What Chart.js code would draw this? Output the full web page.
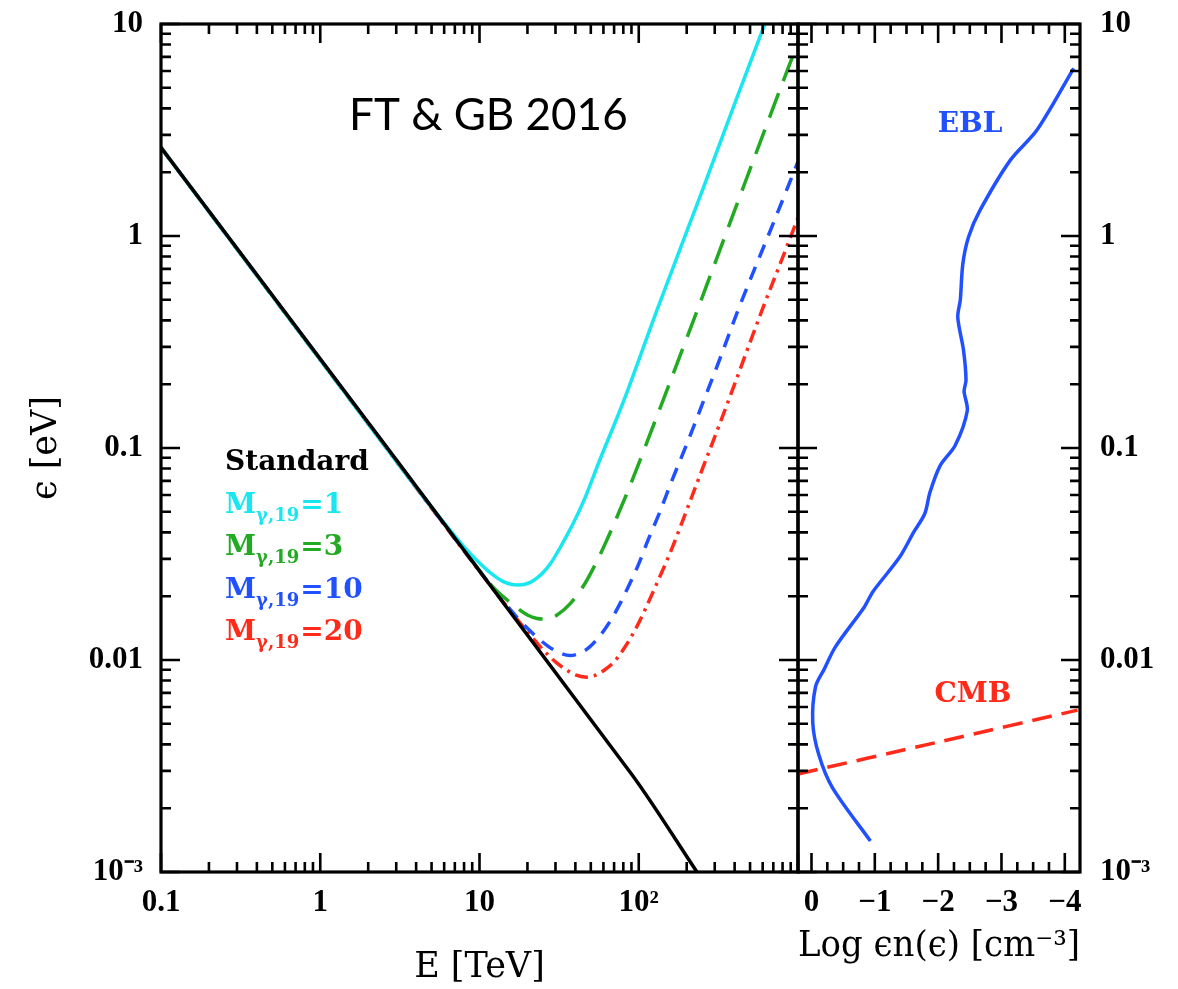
<!DOCTYPE html>
<html>
<head>
<meta charset="utf-8">
<script src="https://cdn.jsdelivr.net/npm/chart.js@4.4.1/dist/chart.umd.min.js"></script>
<style>
  html, body { margin: 0; padding: 0; background: #fff; }
  #wrap { position: relative; width: 1178px; height: 989px; }
  canvas { position: absolute; top: 0; }
  #left { left: 0; }
  #right { left: 786px; }
</style>
</head>
<body>
<div id="wrap">
  <canvas id="left" width="810" height="989"></canvas>
  <canvas id="right" width="392" height="989"></canvas>
</div>
<script>
// left panel: threshold energy eps [eV] vs gamma energy E [TeV]
const stdE = [0.1, 90, 232];
const stdEps = [2.61, 0.0029, 0.001];

const m1E = [0.1, 1, 5, 8, 10, 12, 14, 16, 17.5, 19, 21, 23, 25, 28, 33, 39, 45, 57, 80, 130, 250, 400, 650];
const m1Eps = [2.61, 0.261, 0.0526, 0.0342, 0.0287, 0.0254, 0.0235, 0.0227, 0.0226, 0.0227, 0.0233, 0.0244, 0.0258, 0.0286, 0.0352, 0.0445, 0.056, 0.088, 0.165, 0.446, 1.63, 4.2, 11];

const m3E = [0.1, 1, 8, 12, 16, 20, 23, 25.8, 28, 30.7, 37, 44.7, 52, 61.4, 75, 90, 115, 140, 232, 400, 700, 1000];
const m3Eps = [2.61, 0.261, 0.0331, 0.0223, 0.0184, 0.0163, 0.0157, 0.0156, 0.0158, 0.0163, 0.0184, 0.0222, 0.0272, 0.0352, 0.0496, 0.069, 0.111, 0.163, 0.442, 1.32, 4.05, 8.2];

const m10E = [0.1, 1, 10, 15, 20, 27, 32, 37, 43, 49, 57, 66, 77, 88, 100, 114, 135, 160, 200, 250, 320, 420, 700, 1000];
const m10Eps = [2.61, 0.261, 0.0264, 0.0179, 0.0141, 0.0116, 0.0108, 0.0105, 0.0108, 0.0115, 0.013, 0.0152, 0.0187, 0.023, 0.0284, 0.0366, 0.0495, 0.069, 0.104, 0.16, 0.258, 0.446, 1.15, 2.24];

const m20E = [0.1, 1, 10, 15, 20, 25, 30, 35, 40, 47, 54, 60, 70, 80, 95, 110, 130, 160, 200, 250, 320, 400, 594, 800, 1000];
const m20Eps = [2.61, 0.261, 0.0262, 0.0177, 0.0136, 0.0112, 0.0098, 0.009, 0.0085, 0.0083, 0.0085, 0.0089, 0.0098, 0.0112, 0.0139, 0.0174, 0.023, 0.033, 0.0509, 0.079, 0.128, 0.2, 0.446, 0.79, 1.22];

// right panel: photon densities, Log eps n(eps) vs eps
const eblLog = [-0.93, -0.33, -0.117, -0.02, -0.064, -0.197, -0.38, -0.835, -0.97, -1.39, -1.61, -1.79, -1.87, -2.03, -2.27, -2.46, -2.41, -2.44, -2.40, -2.31, -2.35, -2.39, -2.48, -2.66, -3.14, -3.56, -4.14];
const eblEps = [0.0014, 0.0025, 0.00356, 0.00506, 0.00748, 0.00901, 0.01156, 0.0178, 0.021, 0.0305, 0.0399, 0.0491, 0.0617, 0.0824, 0.103, 0.15, 0.185, 0.209, 0.29, 0.413, 0.5, 0.74, 0.99, 1.32, 2.28, 3.16, 6.18];

const cmbLog = [0.21, -2, -4.2];
const cmbEps = [0.0029, 0.0041, 0.0058];

const xLabelVals = [0.1, 1, 10, 100];
const xLabelText = ['0.1', '1', '10', '10²'];
const yLabelVals = [0.001, 0.01, 0.1, 1, 10];
const yLabelText = ['10⁻³', '0.01', '0.1', '1', '10'];

const legendValues = ['1', '3', '10', '20'];
const legendColors = ['#1ae6f0', '#22aa22', '#2050ff', '#ff2a1a'];

const tickFont = { family: 'Liberation Serif', size: 31, weight: 'bold' };
const titleFont = { family: 'DejaVu Serif', size: 35 };

const pts = (xs, ys) => xs.map((x, i) => ({ x, y: ys[i] }));

function labelFor(v, vals, text) {
  const i = vals.findIndex(k => Math.abs(Math.log10(v) - Math.log10(k)) < 1e-6);
  return i < 0 ? '' : text[i];
}

function curve(xs, ys, color, dash, mode) {
  return {
    data: pts(xs, ys),
    showLine: true,
    borderColor: color,
    borderWidth: 3.5,
    borderDash: dash,
    pointRadius: 0,
    cubicInterpolationMode: mode || 'monotone',
    tension: 0.3
  };
}

function logTicks(min, max) {
  const out = [];
  for (let e = Math.floor(Math.log10(min)); e <= Math.ceil(Math.log10(max)); e++) {
    for (let m = 1; m <= 9; m++) {
      const v = m * Math.pow(10, e);
      if (v >= min * 0.999 && v <= max * 1.001) out.push({ v, major: m === 1 });
    }
  }
  return out;
}

function quarterTicks(min, max) {
  const out = [];
  for (let k = Math.ceil(min * 4); k <= Math.floor(max * 4); k++) {
    out.push({ v: k / 4, major: k % 4 === 0 });
  }
  return out;
}

// keep the plot box where it is, whatever the labels want
function fixBox(size) {
  return s => {
    if (s.isHorizontal()) s.height = size; else s.width = size;
    s.paddingTop = 0; s.paddingBottom = 0; s.paddingLeft = 0; s.paddingRight = 0;
  };
}

// inward ticks on all four sides plus the box
function framePlugin(xTicks) {
  return {
    id: 'frame',
    afterDatasetsDraw(chart) {
      const { ctx, chartArea: a, scales: { x, y } } = chart;
      ctx.save();
      ctx.strokeStyle = '#000';
      ctx.lineWidth = 2.6;
      ctx.beginPath();
      xTicks(x.min, x.max).forEach(t => {
        const px = x.getPixelForValue(t.v);
        const len = t.major ? 19 : 10;
        ctx.moveTo(px, a.bottom); ctx.lineTo(px, a.bottom - len);
        ctx.moveTo(px, a.top); ctx.lineTo(px, a.top + len);
      });
      logTicks(y.min, y.max).forEach(t => {
        const py = y.getPixelForValue(t.v);
        const len = t.major ? 19 : 10;
        ctx.moveTo(a.left, py); ctx.lineTo(a.left + len, py);
        ctx.moveTo(a.right, py); ctx.lineTo(a.right - len, py);
      });
      ctx.stroke();
      ctx.lineWidth = 3.2;
      ctx.strokeRect(a.left, a.top, a.right - a.left, a.bottom - a.top);
      ctx.restore();
    }
  };
}

const leftText = {
  id: 'leftText',
  afterDraw(chart) {
    const ctx = chart.ctx;
    ctx.save();
    ctx.textBaseline = 'alphabetic';
    ctx.fillStyle = '#000';
    ctx.font = '44px Lato';
    ctx.fillText('FT & GB 2016', 349, 130);
    ctx.font = 'bold 28px "DejaVu Serif"';
    ctx.fillText('Standard', 225, 470);
    legendValues.forEach((val, i) => {
      const base = 513 + i * 42.3;
      ctx.fillStyle = legendColors[i];
      ctx.font = 'bold 28px "DejaVu Serif"';
      ctx.fillText('M', 225, base);
      let x = 225 + ctx.measureText('M').width;
      ctx.font = 'bold 18px "DejaVu Serif"';
      ctx.fillText('γ,19', x, base + 8);
      x += ctx.measureText('γ,19').width + 1;
      ctx.font = 'bold 28px "DejaVu Serif"';
      ctx.fillText('=' + val, x, base);
    });
    ctx.restore();
  }
};

const rightText = {
  id: 'rightText',
  afterDraw(chart) {
    const ctx = chart.ctx;
    ctx.save();
    ctx.textAlign = 'center';
    ctx.font = 'bold 28px "DejaVu Serif"';
    ctx.fillStyle = '#2050ff';
    ctx.fillText('EBL', 184, 132);
    ctx.fillStyle = '#ff2a1a';
    ctx.fillText('CMB', 187, 702);
    ctx.restore();
  }
};

const baseScale = {
  border: { display: false },
  grid: { display: false, drawTicks: false }
};

new Chart(document.getElementById('left'), {
  type: 'scatter',
  data: {
    datasets: [
      curve(stdE, stdEps, '#000', [], 'default'),
      curve(m1E, m1Eps, legendColors[0], []),
      curve(m3E, m3Eps, legendColors[1], [26, 13]),
      curve(m10E, m10Eps, legendColors[2], [14, 10]),
      curve(m20E, m20Eps, legendColors[3], [13, 6, 3, 6])
    ]
  },
  options: {
    responsive: false,
    animation: false,
    layout: { padding: { top: 24, right: 12, left: 0, bottom: 0 } },
    plugins: { legend: { display: false }, tooltip: { enabled: false } },
    scales: {
      x: {
        ...baseScale,
        type: 'logarithmic', min: 0.1, max: 1000,
        ticks: { autoSkip: false, maxRotation: 0, padding: 12, color: '#000', font: tickFont,
                 callback: v => labelFor(v, xLabelVals, xLabelText) },
        title: { display: true, text: 'E [TeV]', color: '#000', font: titleFont, padding: { top: 0, bottom: 0 } },
        afterFit: fixBox(117)
      },
      y: {
        ...baseScale,
        type: 'logarithmic', min: 0.001, max: 10, position: 'left',
        ticks: { autoSkip: false, padding: 18, color: '#000', font: tickFont,
                 callback: v => labelFor(v, yLabelVals, yLabelText) },
        title: { display: true, text: 'ϵ [eV]', color: '#000', font: titleFont, padding: { top: 26, bottom: 0 } },
        afterFit: fixBox(161)
      }
    }
  },
  plugins: [framePlugin(logTicks), leftText]
});

new Chart(document.getElementById('right'), {
  type: 'scatter',
  data: {
    datasets: [
      curve(eblLog, eblEps, '#2050ff', [], 'default'),
      curve(cmbLog, cmbEps, '#ff2a1a', [20, 10], 'default')
    ]
  },
  options: {
    responsive: false,
    animation: false,
    layout: { padding: { top: 24, right: 0, left: 12, bottom: 0 } },
    plugins: { legend: { display: false }, tooltip: { enabled: false } },
    scales: {
      x: {
        ...baseScale,
        type: 'linear', min: -4.24, max: 0.213, reverse: true,
        ticks: { autoSkip: false, includeBounds: false, maxRotation: 0, stepSize: 1, padding: 12, color: '#000', font: tickFont,
                 callback: v => Math.abs(v - Math.round(v)) < 1e-9 ? (Math.round(v) === 0 ? '0' : '\u2212' + Math.abs(Math.round(v))) : '' },
        title: { display: true, text: 'Log ϵn(ϵ) [cm⁻³]', color: '#000', font: titleFont, padding: { top: 0, bottom: 21 } },
        afterFit: fixBox(117)
      },
      y: {
        ...baseScale,
        type: 'logarithmic', min: 0.001, max: 10, position: 'right',
        ticks: { autoSkip: false, padding: 20, color: '#000', font: tickFont,
                 callback: v => labelFor(v, yLabelVals, yLabelText) },
        afterFit: fixBox(98)
      }
    }
  },
  plugins: [framePlugin(quarterTicks), rightText]
});
</script>
</body>
</html>
